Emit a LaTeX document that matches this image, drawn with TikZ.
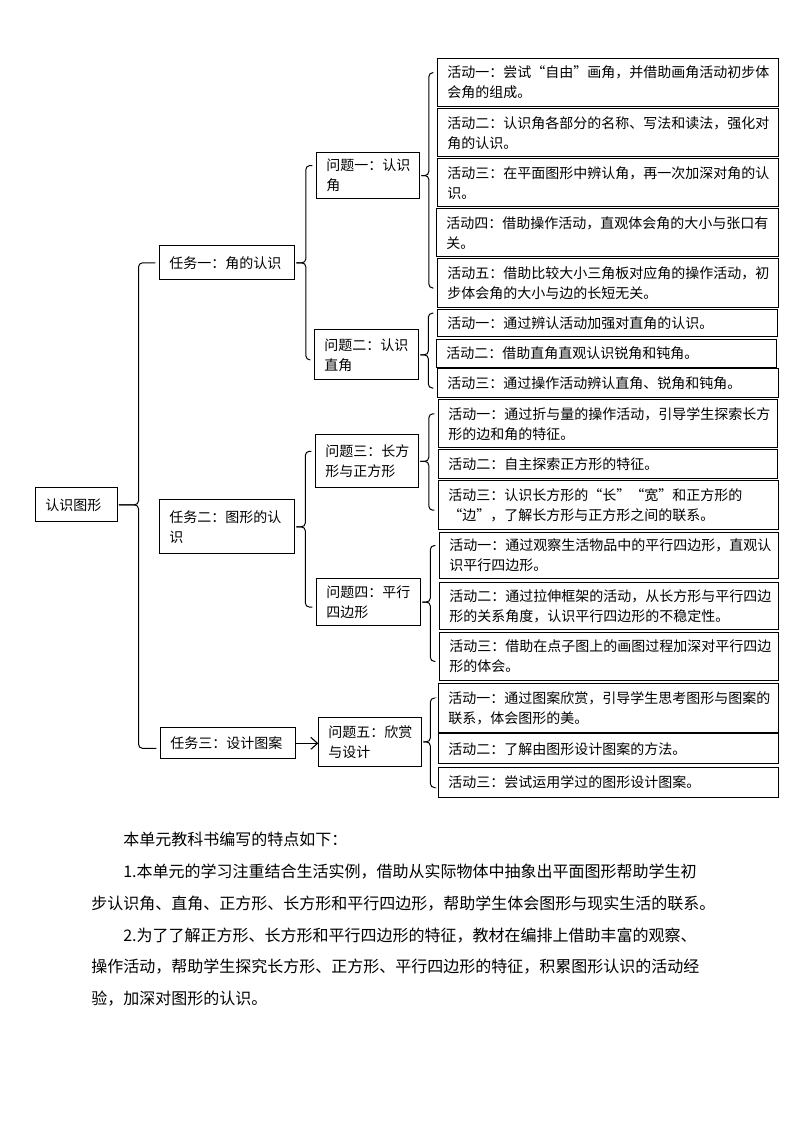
\documentclass[tikz,border=0pt]{standalone}
\usepackage{fontspec}
\setmainfont{Noto Sans CJK SC}
\usetikzlibrary{calc,arrows.meta}
\tikzset{
  ideabox/.style={draw,line width=0.8pt,anchor=north west,inner xsep=7.125pt,inner ysep=0pt,align=left,font=\fontsize{10.5pt}{15pt}\selectfont},
  bracket/.style={line width=0.75pt,rounded corners=3pt},
  linkarrow/.style={line width=0.8pt,-{Straight Barb[length=5pt,width=9pt]}},
  notetext/.style={anchor=base west,inner sep=0pt,align=left,font=\fontsize{12pt}{23.8pt}\selectfont}
}
\newcommand{\ideabox}[6]{%
  \pgfmathsetlengthmacro{\ibw}{#4*0.75pt}%
  \pgfmathsetlengthmacro{\ibh}{#5*0.75pt}%
  \pgfmathsetlengthmacro{\ibtw}{(#4-19)*0.75pt}%
  \node[ideabox,minimum width=\ibw,minimum height=\ibh,text width=\ibtw] (#1) at (#2,#3) {#6};}
\newcommand{\linkbrace}[4][10]{%
  \path (#2.east) -- (#3.west) coordinate[pos=.5] (#2-bx);
  \draw[bracket] ($(#3.west)+(-4,-#1)$) -| (#2-bx |- #2.east) -- ($(#2.east)+(1,0)$);
  \draw[bracket] ($(#4.west)+(-4,5)$) -| (#2-bx |- #2.east) -- ($(#2.east)+(1,0)$);}

\begin{document}
\begin{tikzpicture}[x=0.75pt,y=-0.75pt]
\useasboundingbox (0,0) rectangle (794,1123);
\ideabox{root}{35.3}{487.3}{81.4}{34}{认识图形}
\ideabox{t1}{159.3}{245.3}{135}{34}{任务一：角的认识}
\ideabox{t2}{159.3}{499.3}{135}{54}{任务二：图形的认\\识}
\ideabox{t3}{160.3}{727.3}{135}{31}{任务三：设计图案}
\ideabox{q1}{316.3}{151.7}{103}{46.6}{问题一：认识\\角}
\ideabox{q2}{314.3}{329.3}{104}{50}{问题二：认识\\直角}
\ideabox{q3}{315.3}{434.3}{103}{53}{问题三：长方\\形与正方形}
\ideabox{q4}{316.3}{577.7}{104}{47.6}{问题四：平行\\四边形}
\ideabox{q5}{318.3}{716.7}{103}{49.3}{问题五：欣赏\\与设计}
\ideabox{a11}{437.3}{58.3}{341}{47.7}{活动一：尝试“自由”画角，并借助画角活动初步体\\会角的组成。}
\ideabox{a12}{437.3}{108.3}{341}{47.7}{活动二：认识角各部分的名称、写法和读法，强化对\\角的认识。}
\ideabox{a13}{437.3}{158.3}{341}{47.7}{活动三：在平面图形中辨认角，再一次加深对角的认\\识。}
\ideabox{a14}{436.3}{208.3}{342}{47.7}{活动四：借助操作活动，直观体会角的大小与张口有\\关。}
\ideabox{a15}{437.3}{258.3}{341}{48.4}{活动五：借助比较大小三角板对应角的操作活动，初\\步体会角的大小与边的长短无关。}
\ideabox{a21}{437.3}{309.3}{340}{26.7}{活动一：通过辨认活动加强对直角的认识。}
\ideabox{a22}{436.3}{338.7}{340}{28}{活动二：借助直角直观认识锐角和钝角。}
\ideabox{a23}{437.3}{368.3}{341}{28.4}{活动三：通过操作活动辨认直角、锐角和钝角。}
\ideabox{a31}{438.3}{399.3}{338.4}{48}{活动一：通过折与量的操作活动，引导学生探索长方\\形的边和角的特征。}
\ideabox{a32}{438.3}{449.3}{339}{29}{活动二：自主探索正方形的特征。}
\ideabox{a33}{438.3}{480}{340}{49.3}{活动三：认识长方形的“长”“宽”和正方形的\\“边”，了解长方形与正方形之间的联系。}
\ideabox{a41}{439.3}{531.7}{338.4}{46.6}{活动一：通过观察生活物品中的平行四边形，直观认\\识平行四边形。}
\ideabox{a42}{439.3}{581.7}{338.4}{47.6}{活动二：通过拉伸框架的活动，从长方形与平行四边\\形的关系角度，认识平行四边形的不稳定性。}
\ideabox{a43}{439.3}{631.7}{338.4}{48.3}{活动三：借助在点子图上的画图过程加深对平行四边\\形的体会。}
\ideabox{a51}{438.3}{683.3}{340}{48.4}{活动一：通过图案欣赏，引导学生思考图形与图案的\\联系，体会图形的美。}
\ideabox{a52}{438.3}{733.3}{340}{30}{活动二：了解由图形设计图案的方法。}
\ideabox{a53}{438.3}{767.3}{340}{29.4}{活动三：尝试运用学过的图形设计图案。}
\linkbrace[0]{root}{t1}{t3}
\linkbrace{t1}{q1}{q2}
\linkbrace{t2}{q3}{q4}
\linkbrace{q1}{a11}{a15}
\linkbrace{q2}{a21}{a23}
\linkbrace{q3}{a31}{a33}
\linkbrace{q4}{a41}{a43}
\linkbrace{q5}{a51}{a53}
\draw[linkarrow] (t3.east) -- (t3.east -| q5.west);
\node[notetext] (note) at (91,1004.5) {\hspace*{2em}本单元教科书编写的特点如下：\\
\hspace*{2em}1.本单元的学习注重结合生活实例，借助从实际物体中抽象出平面图形帮助学生初\\
步认识角、直角、正方形、长方形和平行四边形，帮助学生体会图形与现实生活的联系。\\
\hspace*{2em}2.为了了解正方形、长方形和平行四边形的特征，教材在编排上借助丰富的观察、\\
操作活动，帮助学生探究长方形、正方形、平行四边形的特征，积累图形认识的活动经\\
验，加深对图形的认识。};
\end{tikzpicture}
\end{document}
